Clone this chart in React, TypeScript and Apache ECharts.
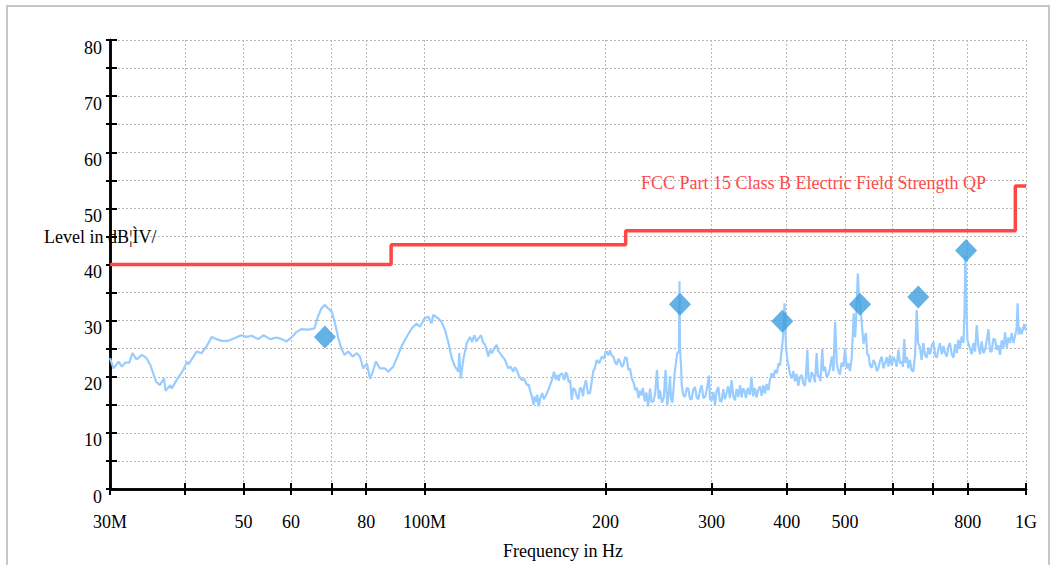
import React, { useEffect, useRef } from 'react';
import * as echarts from 'echarts';

// ---- axis ticks ----
const xTickFreqs = [30, 40, 50, 60, 70, 80, 100, 200, 300, 400, 500, 600, 700, 800, 1000];
const xLabelFreqs = [30, 50, 60, 80, 100, 200, 300, 400, 500, 800, 1000];
const xLabelTexts = ['30M', '50', '60', '80', '100M', '200', '300', '400', '500', '800', '1G'];
const yMin = 0;
const yMax = 80;
const yStep = 5;

// ---- limit line (FCC Part 15 Class B, QP) ----
const limitFreq = [30, 88, 216, 960, 1000];
const limitLevel = [40, 43.5, 46, 54, 54];

// ---- final measurement markers ----
const markerFreq = [68.3, 265.9, 393.4, 529.7, 662.0, 795.0];
const markerLevel = [27.1, 32.9, 29.9, 32.9, 34.2, 42.5];

// ---- preview scan trace [MHz, dB] ----
const trace30to100: [number, number][] = [
  [30.0, 23.3], [30.4, 21.5], [31.0, 22.7], [31.4, 21.8], [31.8, 22.5], [32.3, 22.5], [32.7, 24.2], [33.2, 23.1],
  [33.9, 23.9], [34.5, 23.3], [35.0, 22.1], [35.4, 20.6], [35.8, 19.1], [36.3, 18.5], [36.9, 19.7], [37.1, 17.5],
  [37.8, 18.5], [38.0, 17.9], [38.7, 19.4], [39.2, 20.3], [39.7, 21.2], [40.3, 22.7], [40.5, 22.2], [41.3, 23.6],
  [41.8, 24.5], [42.6, 24.2], [43.4, 25.4], [44.3, 27.1], [45.1, 26.7], [46.0, 26.4], [47.2, 26.4], [48.4, 26.9],
  [49.6, 27.4], [50.6, 27.1], [51.6, 27.3], [52.9, 26.7], [54.0, 27.4], [55.4, 26.7], [56.8, 27.0], [57.9, 26.7],
  [59.0, 26.3], [60.2, 27.1], [61.3, 28.0], [62.5, 28.5], [64.1, 28.4], [65.6, 28.6], [66.5, 30.7], [67.4, 32.2],
  [68.3, 32.8], [69.1, 32.2], [70.1, 31.6], [71.0, 29.5], [71.9, 26.9], [72.7, 25.1], [73.6, 23.9], [74.7, 24.5],
  [75.9, 23.6], [77.2, 24.2], [78.1, 23.6], [79.1, 21.5], [80.2, 22.4], [81.2, 19.6], [82.2, 21.2], [83.0, 22.7],
  [84.3, 21.5], [85.9, 21.5], [87.0, 20.9], [88.7, 21.8], [90.4, 23.9], [91.6, 25.4], [92.8, 26.6], [95.2, 28.6],
  [97.0, 29.5], [98.3, 28.9], [100.0, 30.4],
];

const trace100to200: [number, number][] = [
  [101.5, 30.7], [102.7, 29.5], [103.4, 31.0], [105.4, 30.4], [106.7, 29.8], [108.2, 28.3], [109.6, 26.0], [111.0, 23.3],
  [112.4, 21.8], [113.9, 20.9], [114.2, 24.2], [114.9, 19.7], [116.1, 23.3], [117.6, 26.0], [119.0, 27.1], [120.0, 26.2],
  [121.0, 27.4], [122.0, 26.3], [122.9, 26.8], [124.2, 27.4], [125.0, 26.2], [126.1, 25.7], [127.7, 23.6], [128.5, 24.8],
  [129.4, 24.2], [130.5, 25.0], [131.8, 25.7], [132.6, 24.6], [133.5, 24.2], [134.8, 23.6], [136.1, 23.0], [137.0, 22.2],
  [137.8, 21.5], [139.0, 21.8], [140.5, 20.9], [141.4, 21.7], [142.3, 21.2], [143.5, 20.2], [145.1, 19.4], [146.5, 19.6],
  [148.0, 18.5], [149.0, 18.6], [149.8, 17.6], [150.8, 16.5], [151.8, 15.0], [152.5, 16.5], [153.2, 15.5], [154.0, 16.8],
  [154.8, 14.7], [155.8, 16.2], [156.9, 17.1], [157.9, 16.0], [158.9, 16.5], [160.0, 17.2], [161.0, 17.9], [162.6, 19.2],
  [164.2, 20.9], [165.2, 19.5], [166.3, 20.3], [167.2, 19.3], [168.0, 20.4], [169.3, 20.6], [170.7, 19.4], [171.8, 20.8],
  [172.8, 20.3], [173.7, 19.0], [174.6, 19.4], [175.7, 15.9], [176.8, 18.0], [178.0, 17.6], [179.1, 16.5], [180.2, 16.0],
  [181.3, 18.0], [182.5, 17.9], [183.4, 16.5], [184.3, 18.2], [185.5, 19.4], [187.0, 17.0], [188.4, 17.1], [189.6, 19.0],
  [190.8, 21.0], [192.0, 21.5], [193.3, 23.0], [195.2, 22.4], [197.1, 23.6], [199.0, 23.2], [200.0, 24.5],
];

const trace200to400: [number, number][] = [
  [200.9, 24.5], [202.1, 23.8], [203.4, 24.7], [204.7, 23.8], [206.0, 23.6], [207.4, 22.6], [208.7, 22.1], [210.0, 23.2],
  [211.4, 22.7], [212.8, 21.8], [214.1, 22.1], [215.5, 23.5], [216.9, 23.3], [218.2, 21.2], [219.6, 21.5], [221.1, 19.7],
  [222.6, 19.0], [224.1, 17.6], [225.5, 18.0], [226.9, 16.2], [228.1, 17.5], [229.5, 16.7], [230.6, 18.0], [232.4, 15.6],
  [233.8, 17.2], [235.4, 14.7], [237.1, 17.9], [238.5, 15.5], [240.2, 15.6], [241.8, 17.0], [243.5, 21.2], [245.1, 16.0],
  [246.3, 17.6], [248.2, 15.4], [250.0, 16.4], [251.6, 21.2], [253.3, 15.0], [255.0, 17.5], [255.9, 20.1], [257.0, 16.0],
  [258.4, 15.4], [260.6, 20.8], [263.1, 24.2], [264.8, 24.5], [265.4, 37.0], [265.9, 25.0], [267.0, 22.0], [267.7, 18.5],
  [269.2, 16.8], [271.0, 16.4], [273.0, 18.0], [274.5, 17.9], [276.3, 16.0], [278.1, 16.0], [279.9, 17.8], [281.7, 18.2],
  [283.5, 16.3], [285.3, 16.0], [287.1, 17.6], [289.0, 18.5], [290.8, 16.2], [292.7, 16.4], [294.8, 17.8], [297.2, 20.2],
  [298.3, 16.0], [300.3, 15.8], [302.2, 17.3], [304.1, 15.0], [306.0, 17.5], [307.9, 18.2], [309.9, 15.6], [311.9, 15.6],
  [313.8, 17.8], [315.8, 16.0], [317.7, 17.0], [319.7, 18.3], [322.0, 16.2], [324.0, 19.4], [326.1, 16.5], [328.2, 15.8],
  [330.2, 17.8], [332.4, 16.4], [334.6, 18.5], [336.7, 16.3], [338.5, 17.9], [340.2, 17.6], [342.4, 16.2], [344.5, 18.0],
  [347.6, 16.8], [349.6, 20.0], [351.8, 16.5], [354.1, 18.0], [356.4, 16.3], [358.6, 17.6], [361.2, 18.3], [363.5, 16.6],
  [365.9, 18.5], [368.2, 17.0], [370.6, 18.7], [373.1, 17.6], [375.3, 19.5], [377.8, 20.6], [380.3, 19.8], [382.7, 21.2],
  [385.3, 20.6], [387.8, 22.4], [389.9, 22.0], [392.5, 24.8], [394.5, 27.0], [396.8, 33.1], [399.1, 25.0],
];

const trace400to1000: [number, number][] = [
  [401.1, 23.0], [403.2, 21.8], [405.1, 20.5], [407.7, 19.7], [410.3, 21.0], [412.9, 19.2], [415.5, 20.5], [418.2, 18.4],
  [420.9, 20.0], [423.7, 20.3], [426.4, 18.8], [429.1, 18.4], [430.8, 20.5], [433.0, 24.8], [435.0, 19.5], [437.3, 19.0],
  [440.1, 20.8], [443.0, 20.2], [445.8, 19.0], [448.7, 24.2], [451.0, 20.0], [452.7, 20.2], [455.3, 19.2], [458.4, 25.0],
  [460.5, 21.0], [463.2, 21.8], [466.2, 20.0], [469.2, 20.4], [472.2, 21.5], [475.3, 23.6], [478.4, 21.0], [481.5, 29.8],
  [484.6, 22.4], [487.7, 21.0], [490.5, 20.4], [493.7, 22.5], [497.0, 21.8], [500.2, 25.0], [503.5, 21.5], [506.6, 22.4],
  [509.8, 21.0], [513.1, 23.3], [517.2, 31.3], [519.8, 27.0], [521.9, 30.1], [525.3, 38.4], [528.0, 34.0], [529.7, 33.1],
  [533.3, 29.5], [536.8, 25.9], [541.8, 27.8], [544.6, 24.0], [547.5, 23.8], [550.3, 22.0], [554.1, 21.6], [557.7, 23.0],
  [561.3, 22.4], [564.9, 21.0], [568.2, 21.5], [571.7, 22.8], [575.5, 23.6], [579.3, 21.5], [583.0, 22.4], [586.8, 23.5],
  [590.5, 21.8], [594.2, 23.9], [598.1, 22.0], [602.0, 23.5], [605.9, 22.9], [609.6, 21.8], [613.4, 24.8], [617.3, 22.4],
  [621.3, 22.7], [624.5, 21.8], [627.6, 26.7], [630.5, 22.5], [634.2, 23.5], [637.4, 21.5], [641.4, 23.0], [645.1, 21.2],
  [649.7, 20.9], [654.0, 24.0], [658.2, 31.9], [661.5, 26.0], [666.4, 25.3], [670.4, 23.0], [675.1, 26.0], [679.5, 23.8],
  [684.0, 23.4], [688.2, 25.2], [692.5, 24.0], [697.3, 25.6], [701.7, 26.2], [706.2, 23.8], [710.8, 23.4], [715.2, 25.0],
  [719.5, 26.0], [724.4, 24.0], [729.1, 25.5], [733.8, 24.2], [738.5, 23.6], [743.2, 25.4], [747.6, 26.0], [752.6, 24.0],
  [757.5, 23.4], [762.4, 25.8], [767.3, 24.2], [772.0, 26.6], [776.7, 25.0], [781.8, 27.2], [787.2, 26.0], [790.4, 32.0],
  [792.8, 41.7], [795.9, 33.0], [799.0, 26.5], [802.1, 26.0], [807.1, 25.0], [812.4, 24.0], [817.6, 26.0], [822.8, 24.5],
  [828.1, 29.2], [833.3, 25.5], [838.5, 24.0], [843.9, 26.3], [849.3, 24.2], [854.9, 24.8], [860.6, 26.5], [866.2, 28.5],
  [871.2, 24.5], [876.7, 24.5], [882.6, 26.8], [888.3, 26.6], [894.2, 24.8], [900.0, 25.6], [905.1, 23.9], [911.1, 26.5],
  [917.1, 25.0], [923.0, 27.9], [929.1, 25.2], [935.1, 27.0], [940.6, 26.0], [946.9, 27.8], [953.2, 26.0], [959.5, 27.4],
  [964.6, 28.5], [968.6, 33.1], [972.6, 27.5], [976.6, 28.8], [983.8, 27.6], [993.4, 29.4], [1000, 28.2],
];

const FONT = '"Liberation Serif", "Times New Roman", serif';
const lg = (f: number) => Math.log10(f);

export default function App() {
  const ref = useRef<HTMLDivElement>(null);

  useEffect(() => {
    document.body.style.margin = '0';
    if (!ref.current) return;
    const chart = echarts.init(ref.current, null, { renderer: 'svg' });

    const trace = [...trace30to100, ...trace100to200, ...trace200to400, ...trace400to1000].map(
      ([f, v]) => [lg(f), v]
    );
    const limit = limitFreq.map((f, i) => [lg(f), limitLevel[i]]);
    const markers = markerFreq.map((f, i) => [lg(f), markerLevel[i]]);

    const xMin = lg(xTickFreqs[0]);
    const xMax = lg(xTickFreqs[xTickFreqs.length - 1]);
    const labelFor = (v: number) => {
      const f = Math.round(Math.pow(10, v));
      const idx = xLabelFreqs.indexOf(f);
      return idx >= 0 ? xLabelTexts[idx] : '';
    };

    const gridDot = { color: '#b8b8b8', width: 1, type: [2, 2] as number[] };

    chart.setOption({
      animation: false,
      textStyle: { fontFamily: FONT },
      grid: { left: 110, right: 30, top: 40, bottom: 76, containLabel: false },
      xAxis: [
        {
          type: 'value',
          min: xMin,
          max: xMax,
          position: 'bottom',
          axisLine: { show: true, lineStyle: { color: '#000', width: 2.5 } },
          axisTick: {
            show: true,
            inside: false,
            length: 6,
            customValues: xTickFreqs.map(lg),
            lineStyle: { color: '#000', width: 2 },
          },
          axisLabel: {
            show: true,
            customValues: xLabelFreqs.map(lg),
            formatter: labelFor,
            color: '#000',
            fontSize: 18,
            fontFamily: FONT,
            margin: 24,
          },
          splitLine: { show: true, lineStyle: gridDot },
        },
        {
          type: 'value',
          min: xMin,
          max: xMax,
          position: 'bottom',
          axisLine: { show: true, lineStyle: { color: '#000', width: 2.5 } },
          axisTick: {
            show: true,
            inside: true,
            length: 6,
            customValues: xTickFreqs.map(lg),
            lineStyle: { color: '#000', width: 2 },
          },
          axisLabel: { show: false },
          splitLine: { show: false },
        },
      ],
      yAxis: [
        {
          type: 'value',
          min: yMin,
          max: yMax,
          interval: yStep,
          position: 'left',
          axisLine: { show: true, lineStyle: { color: '#000', width: 2.5 } },
          axisTick: { show: true, inside: false, length: 4, lineStyle: { color: '#000', width: 2 } },
          axisLabel: {
            color: '#000',
            fontSize: 18,
            lineHeight: 15,
            fontFamily: FONT,
            margin: 8,
            verticalAlign: 'top',
            formatter: (v: number) => (v % 10 === 0 ? String(v) : ''),
          },
          splitLine: { show: true, lineStyle: gridDot },
        },
        {
          type: 'value',
          min: yMin,
          max: yMax,
          interval: yStep,
          position: 'left',
          axisLine: { show: true, lineStyle: { color: '#000', width: 2.5 } },
          axisTick: { show: true, inside: true, length: 7, lineStyle: { color: '#000', width: 2 } },
          axisLabel: { show: false },
          splitLine: { show: false },
        },
      ],
      series: [
        {
          type: 'line',
          name: 'trace',
          data: trace,
          showSymbol: false,
          symbol: 'none',
          lineStyle: { color: '#99ccff', width: 2.2 },
          z: 2,
        },
        {
          type: 'line',
          name: 'FCC Part 15 Class B Electric Field Strength QP',
          data: limit,
          step: 'end',
          showSymbol: false,
          symbol: 'none',
          lineStyle: { color: '#ff4646', width: 3.5 },
          z: 3,
        },
        {
          type: 'scatter',
          name: 'final',
          data: markers,
          symbol: 'diamond',
          symbolSize: [22, 23],
          itemStyle: { color: '#3d9de0' },
          z: 4,
        },
      ],
      graphic: [
        {
          type: 'rect',
          silent: true,
          z: -10,
          shape: { x: 7, y: 6, width: 1042, height: 640 },
          style: { fill: 'none', stroke: '#c6c6c6', lineWidth: 2 },
        },
        {
          type: 'text',
          x: 44,
          y: 237,
          z: 10,
          style: {
            text: 'Level in dB¦ÌV/',
            fill: '#000',
            fontSize: 18,
            lineHeight: 16,
            fontFamily: FONT,
            verticalAlign: 'middle',
          },
        },
        {
          type: 'text',
          x: 641,
          y: 183,
          z: 10,
          style: {
            text: 'FCC Part 15 Class B Electric Field Strength QP',
            fill: '#ff4a4a',
            fontSize: 18,
            fontFamily: FONT,
            verticalAlign: 'middle',
          },
        },
        {
          type: 'text',
          x: 563,
          y: 551,
          z: 10,
          style: {
            text: 'Frequency in Hz',
            fill: '#000',
            fontSize: 18,
            fontFamily: FONT,
            align: 'center',
            verticalAlign: 'middle',
          },
        },
      ],
    });

    return () => chart.dispose();
  }, []);

  return <div ref={ref} style={{ width: 1056, height: 565 }} />;
}
